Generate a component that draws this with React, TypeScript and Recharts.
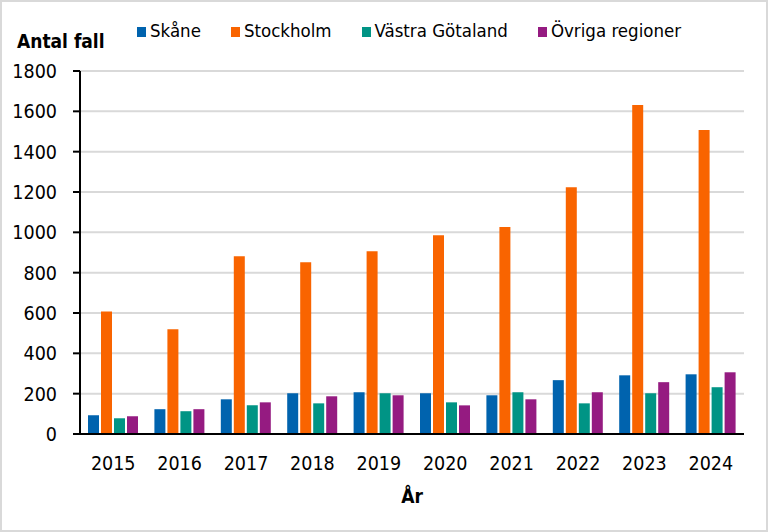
import React from "react";
import { Bar, BarChart, CartesianGrid, XAxis, YAxis } from "recharts";

const years = ["2015", "2016", "2017", "2018", "2019", "2020", "2021", "2022", "2023", "2024"];
const skane = [93, 123, 172, 202, 207, 202, 192, 267, 291, 296];
const stockholm = [608, 520, 882, 852, 906, 986, 1026, 1224, 1631, 1507];
const vastraGotaland = [78, 113, 142, 152, 202, 157, 207, 152, 202, 232];
const ovriga = [88, 123, 157, 187, 192, 142, 172, 207, 257, 306];
const yTicks = [0, 200, 400, 600, 800, 1000, 1200, 1400, 1600, 1800];

const series = [
  { key: "skane", name: "Skåne", color: "#0063AE", values: skane },
  { key: "stockholm", name: "Stockholm", color: "#F96400", values: stockholm },
  { key: "vg", name: "Västra Götaland", color: "#009485", values: vastraGotaland },
  { key: "ovriga", name: "Övriga regioner", color: "#951B81", values: ovriga },
];

const data = years.map((year, i) => {
  const row: Record<string, string | number> = { year };
  series.forEach((s) => {
    row[s.key] = s.values[i];
  });
  return row;
});

const FONT = '"DejaVu Sans Condensed", "Liberation Sans", sans-serif';

function Legend() {
  return (
    <div
      style={{
        position: "absolute",
        left: 137,
        top: 22,
        display: "flex",
        gap: 30,
        fontFamily: FONT,
        fontSize: 18.5,
        lineHeight: "18px",
        color: "#000",
        whiteSpace: "nowrap",
      }}
    >
      {series.map((s) => (
        <div key={s.key} style={{ display: "flex", alignItems: "center" }}>
          <span
            style={{
              display: "inline-block",
              width: 9,
              height: 10,
              background: s.color,
              marginRight: 4,
              marginTop: 2,
            }}
          />
          <span>{s.name}</span>
        </div>
      ))}
    </div>
  );
}

export default function App() {
  return (
    <div
      style={{
        position: "fixed",
        left: 0,
        top: 0,
        width: 768,
        height: 532,
        background: "#fff",
      }}
    >
      <BarChart
        width={768}
        height={532}
        data={data}
        margin={{ top: 71, right: 24, bottom: 0, left: 0 }}
        barSize={11}
        barGap={2}
      >
        <CartesianGrid vertical={false} stroke="#D9D9D9" strokeWidth={2} />
        <XAxis
          dataKey="year"
          height={98}
          tickLine={false}
          tickSize={0}
          tickMargin={22}
          axisLine={{ stroke: "#000", strokeWidth: 2 }}
          tick={{ fill: "#000", fontSize: 19.5, fontFamily: FONT }}
        />
        <YAxis
          width={80}
          domain={[0, 1800]}
          ticks={yTicks}
          interval={0}
          tickSize={7}
          tickMargin={16}
          tickLine={{ stroke: "#000", strokeWidth: 2 }}
          axisLine={{ stroke: "#000", strokeWidth: 2 }}
          tick={{ fill: "#000", fontSize: 19.5, fontFamily: FONT }}
        />
        {series.map((s) => (
          <Bar
            key={s.key}
            dataKey={s.key}
            name={s.name}
            fill={s.color}
            isAnimationActive={false}
          />
        ))}
      </BarChart>
      <Legend />
      <div
        style={{
          position: "absolute",
          left: 17,
          top: 32,
          fontFamily: FONT,
          fontWeight: "bold",
          fontSize: 19,
          lineHeight: "19px",
          whiteSpace: "nowrap",
        }}
      >
        Antal fall
      </div>
      <div
        style={{
          position: "absolute",
          left: 80,
          width: 664,
          top: 487,
          textAlign: "center",
          fontFamily: FONT,
          fontWeight: "bold",
          fontSize: 19,
          lineHeight: "19px",
        }}
      >
        År
      </div>
      <div
        style={{
          position: "absolute",
          inset: 0,
          border: "2px solid #D9D9D9",
          pointerEvents: "none",
        }}
      />
    </div>
  );
}
